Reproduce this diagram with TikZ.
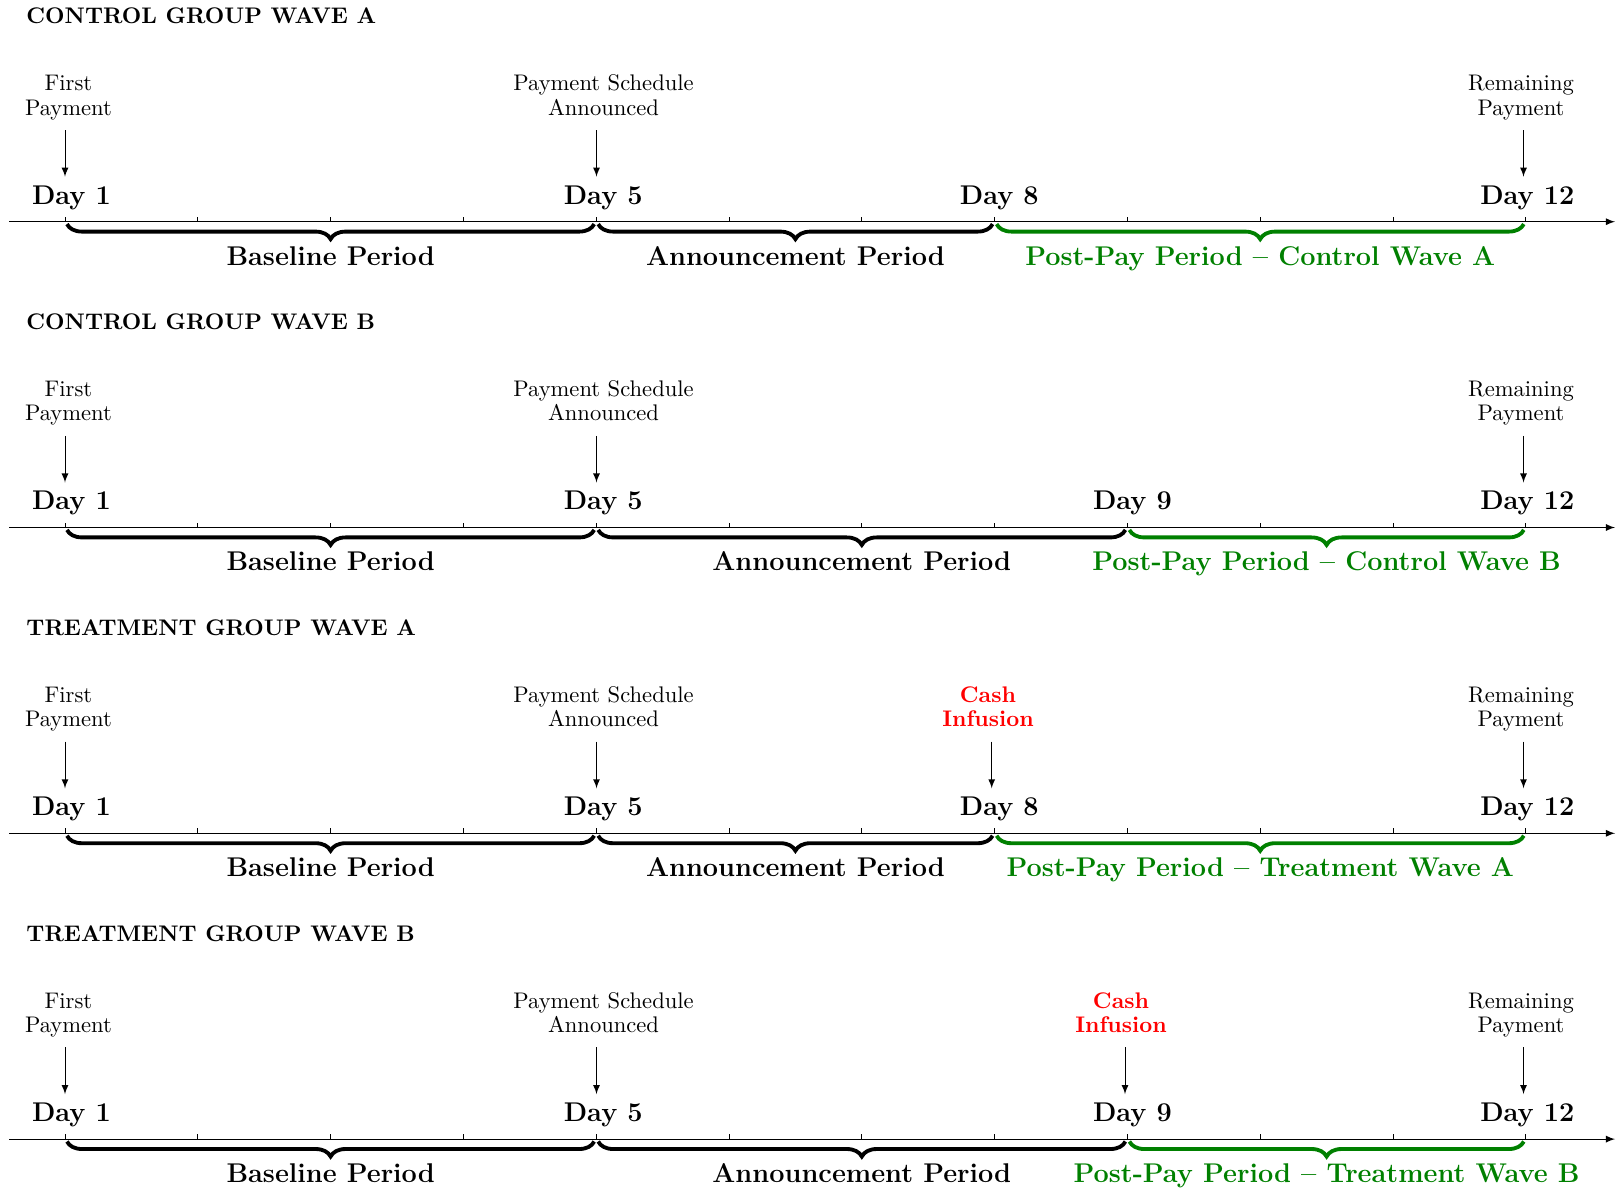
\documentclass[tikz,border=0pt]{standalone}
\usetikzlibrary{decorations.pathreplacing,arrows.meta}
\definecolor{pgreen}{rgb}{0,0.5,0}
\tikzset{
  titletext/.style={anchor=base west,font=\bfseries,inner sep=0pt},
  evtext/.style={anchor=base,align=center,font=\fontsize{10}{10.8}\selectfont,inner sep=0pt},
  cashtext/.style={evtext,text=red,font=\fontsize{10}{10.8}\selectfont\bfseries},
  daytext/.style={anchor=base,font=\large\bfseries,inner sep=0pt},
  pertext/.style={anchor=base,font=\large\bfseries,inner sep=0pt},
  axisline/.style={-latex,line width=0.4pt},
  tickline/.style={line width=0.4pt},
  evarrow/.style={-latex,line width=0.4pt},
  brc/.style={decorate,decoration={brace,mirror,amplitude=6.65pt},line width=1.7pt},
}
% #1 row index, #2 title, #3 third day (8 or 9), #4 post-pay label, #5 cash infusion (1/0)
\newcommand\tlrow[5]{%
  \pgfmathsetmacro\A{221.7+#1*305.8}%
  \pgfmathsetmacro\xc{65+(#3-1)*132.8}%
  \pgfmathsetmacro\xclab{(#3==8) ? 999.3 : 1132.5}%
  \pgfmathsetmacro\xcash{(#3==8) ? 988 : 1121}%
  \pgfmathsetmacro\xcarr{(#3==8) ? 991.7 : 1125}%
  \node[titletext] (title#1) at (26,\A-198) {#2};
  \coordinate (axs#1) at (9.3,\A);
  \coordinate (axe#1) at (1615,\A);
  \draw[axisline] (axs#1) -- (axe#1);
  \foreach \d in {1,...,12}{\draw[tickline] ({65+(\d-1)*132.8},\A) -- ++(0,-5);}
  % events
  \node[evtext] (fp#1) at (68.5,\A-106.7) {First\\Payment};
  \coordinate (fpa#1) at (65,\A-91.7); \coordinate (fpb#1) at (65,\A-45);
  \draw[evarrow] (fpa#1) -- (fpb#1);
  \node[evtext] (ps#1) at (603.5,\A-106.7) {Payment Schedule\\Announced};
  \coordinate (psa#1) at (596.5,\A-91.7); \coordinate (psb#1) at (596.5,\A-45);
  \draw[evarrow] (psa#1) -- (psb#1);
  \node[evtext] (rp#1) at (1521,\A-106.7) {Remaining\\Payment};
  \coordinate (rpa#1) at (1523.5,\A-91.7); \coordinate (rpb#1) at (1523.5,\A-45);
  \draw[evarrow] (rpa#1) -- (rpb#1);
  \ifnum#5=1
    \node[cashtext] (ci#1) at (\xcash,\A-106.7) {Cash\\Infusion};
    \coordinate (cia#1) at (\xcarr,\A-91.7); \coordinate (cib#1) at (\xcarr,\A-45);
    \draw[evarrow] (cia#1) -- (cib#1);
  \fi
  % day labels
  \node[daytext] (da#1) at (71.5,\A-17.7) {Day 1};
  \node[daytext] (db#1) at (603.3,\A-17.7) {Day 5};
  \node[daytext] (dc#1) at (\xclab,\A-17.7) {Day #3};
  \node[daytext] (dd#1) at (1527.3,\A-17.7) {Day 12};
  % braces
  \coordinate (b1#1) at (67,\A+2.4);
  \coordinate (b2#1) at (594.2,\A+2.4);
  \coordinate (b3#1) at (598.2,\A+2.4);
  \coordinate (b4#1) at (\xc-2,\A+2.4);
  \coordinate (b5#1) at (\xc+2,\A+2.4);
  \coordinate (b6#1) at (1523.8,\A+2.4);
  \draw[brc] (b1#1) -- (b2#1);
  \draw[brc] (b3#1) -- (b4#1);
  \draw[brc,pgreen] (b5#1) -- (b6#1);
  \node[pertext] (pb#1) at (330.6,\A+43.3) {Baseline Period};
  \node[pertext] (pa#1) at ({(596.2+\xc)/2},\A+43.3) {Announcement Period};
  \node[pertext,text=pgreen] (pp#1) at ({(\xc+1525.8)/2},\A+43.3) {#4};
}
\begin{document}
\begin{tikzpicture}[x=0.443pt,y=-0.443pt]
  \useasboundingbox (0,0) rectangle (1616,1188);
  \tlrow{0}{CONTROL GROUP WAVE A}{8}{Post-Pay Period -- Control Wave A}{0}
  \tlrow{1}{CONTROL GROUP WAVE B}{9}{Post-Pay Period -- Control Wave B}{0}
  \tlrow{2}{TREATMENT GROUP WAVE A}{8}{Post-Pay Period -- Treatment Wave A}{1}
  \tlrow{3}{TREATMENT GROUP WAVE B}{9}{Post-Pay Period -- Treatment Wave B}{1}
\end{tikzpicture}
\end{document}
